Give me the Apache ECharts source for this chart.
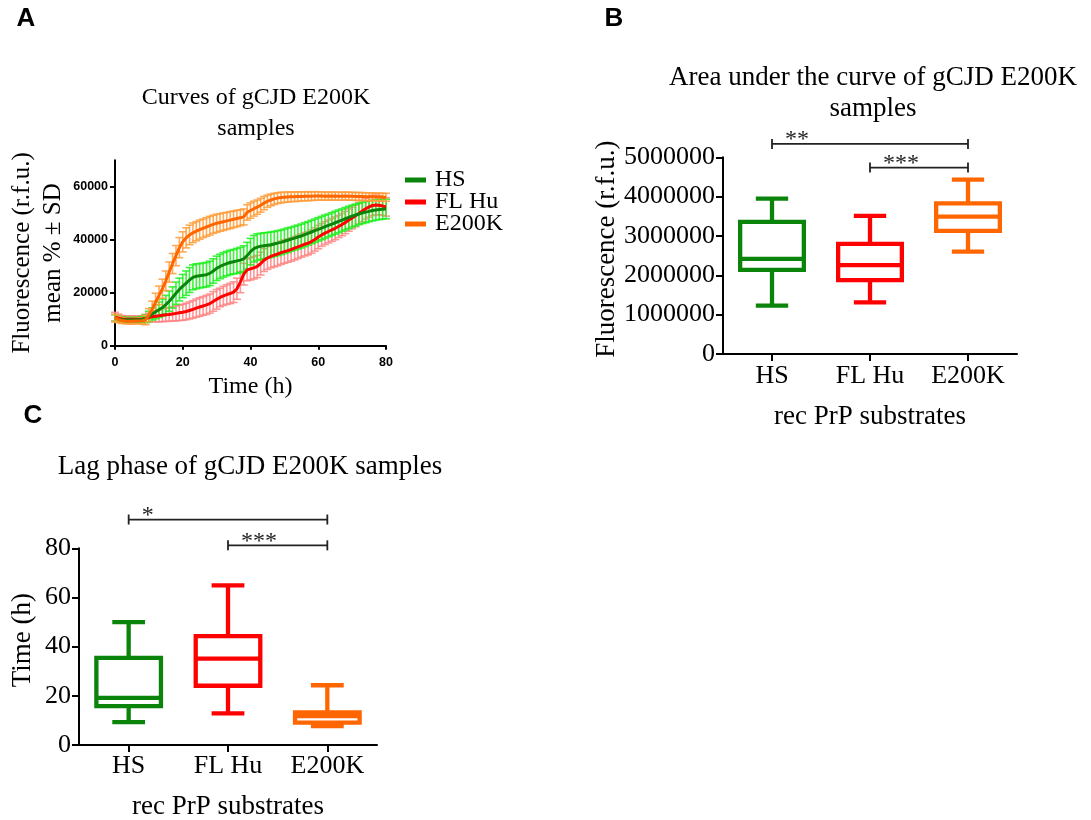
<!DOCTYPE html>
<html><head><meta charset="utf-8">
<script src="https://cdn.jsdelivr.net/npm/echarts@6/dist/echarts.min.js"></script>
<style>html,body{margin:0;padding:0;background:#fff}#c{width:1091px;height:820px}</style>
</head><body><div id="c"></div>
<script>
// ---------- Panel A: curves (time in h, mean and SD in r.f.u.) ----------
const timeH = [0,1,2,3,4,5,6,7,8,9,10,11,12,13,14,15,16,17,18,19,20,21,22,23,24,25,26,27,28,29,30,31,32,33,34,35,36,37,38,39,40,41,42,43,44,45,46,47,48,49,50,51,52,53,54,55,56,57,58,59,60,61,62,63,64,65,66,67,68,69,70,71,72,73,74,75,76,77,78,79,80];
const hsMean = [10500,10000,9800,9700,9700,9700,9700,9800,9900,10200,11000,12000,12800,13600,14400,15500,16800,18200,19800,21200,22500,23600,24800,25800,26200,26400,26600,26800,27300,28200,29200,29900,30500,31000,31400,31700,32000,32300,32800,34000,35500,36600,37200,37500,37700,37900,38100,38400,38700,39000,39400,39800,40200,40600,41000,41400,41900,42400,42900,43400,43900,44400,44900,45400,45900,46400,46900,47400,47900,48400,48900,49300,49700,50100,50400,50700,51000,51200,51400,51500,51600];
const hsSD = [1200,1100,1000,1000,900,900,900,1000,1100,1500,2000,2300,2600,2900,3200,3500,3800,4000,4200,4300,4400,4600,4700,4700,4700,4600,4600,4600,4600,4600,4600,4600,4600,4600,4600,4600,4700,4800,4900,5000,5000,5000,5000,4900,4900,4800,4800,4700,4700,4600,4600,4600,4500,4500,4500,4500,4500,4400,4400,4400,4400,4400,4400,4300,4300,4300,4300,4200,4200,4200,4100,4100,4000,4000,4000,3900,3900,3800,3800,3700,3700];
const flMean = [10800,10400,10100,10000,10000,10000,10000,10000,10100,10300,10600,10900,11100,11300,11500,11700,11800,12000,12200,12400,12600,12900,13300,13700,14200,14600,15000,15400,15900,16700,17500,18200,18800,19300,19700,20200,21500,24000,27000,28600,29000,29400,29900,31000,32300,33100,33700,34200,34600,35100,35500,35900,36300,36800,37300,37800,38300,38700,39300,40100,41000,41800,42500,43100,43700,44300,45000,45700,46500,47400,48200,49000,49900,50800,51700,52400,52900,53100,53000,52700,52400];
const flSD = [1800,1500,1300,1200,1200,1200,1200,1200,1200,1500,1700,1900,2100,2300,2400,2500,2600,2700,2800,2900,3000,3100,3200,3300,3400,3500,3500,3600,3600,3700,3700,3500,3600,3700,3800,3900,4000,4000,4100,4100,4200,4200,4200,4300,4300,4300,4300,4400,4400,4400,4400,4400,4400,4400,4400,4400,4400,4400,4400,4400,4400,4300,4300,4300,4300,4300,4200,4200,4200,4200,4100,4100,4000,4000,3900,3900,3800,3700,3600,3500,3500];
const ekMean = [10500,9900,9500,9300,9200,9200,9300,9300,9400,9700,11500,13800,16500,19000,21500,24500,27800,31000,34000,37000,39200,40700,41800,42600,43200,43800,44300,44800,45300,45800,46200,46500,46800,47100,47400,47700,48000,48300,48600,50300,51000,51700,52300,53000,53800,54500,55000,55400,55700,55900,56000,56100,56200,56200,56300,56300,56400,56400,56400,56500,56500,56500,56400,56500,56400,56500,56400,56400,56500,56400,56400,56300,56300,56300,56200,56200,56200,56100,56100,56000,56000];
const ekSD = [1300,1200,1100,1000,1000,1000,1000,1100,1200,1800,2500,3000,3300,3500,3600,3700,3800,3800,3800,3800,3800,3800,3700,3700,3600,3600,3500,3500,3500,3400,3400,3300,3300,3200,3200,3100,3100,3000,3000,2900,2900,2800,2700,2600,2500,2300,2200,2100,2000,2000,1900,1900,1800,1800,1800,1700,1700,1700,1600,1600,1600,1500,1500,1500,1500,1500,1500,1500,1500,1500,1500,1500,1500,1500,1500,1500,1500,1500,1500,1500,1500];
const curveXTicks = [0,20,40,60,80];
const curveYTicks = [0,20000,40000,60000];
const seriesNames = ['HS','FL Hu','E200K'];

// ---------- Panels B and C: box plots [min, q1, median, q3, max] ----------
const boxCategories = ['HS','FL Hu','E200K'];
const aucHS = [1230000, 2140000, 2420000, 3360000, 3950000];
const aucFL = [1310000, 1880000, 2260000, 2800000, 3510000];
const aucEK = [2600000, 3130000, 3490000, 3830000, 4430000];
const aucTicks = [0,1000000,2000000,3000000,4000000,5000000];
const lagHS = [9.3, 15.8, 19.2, 35.4, 50.0];
const lagFL = [12.9, 24.1, 35.1, 44.3, 64.9];
const lagEK = [7.7, 9.1, 11.8, 13.3, 24.3];
const lagTicks = [0,20,40,60,80];
// significance brackets: [from category, to category, height, label]
const aucSig = [[0, 2, 5340000, '**'], [1, 2, 4740000, '***']];
const lagSig = [[0, 2, 91.7, '*'], [1, 2, 81.2, '***']];

// ---------- styles ----------
const SERIF = 'Liberation Serif';
const SANS = 'Liberation Sans';
const GREEN = '#0A840A', RED = '#FF0000', ORANGE = '#FF6600';
const GREEN_ERR = '#1EF01E', RED_ERR = '#FF8585', ORANGE_ERR = '#FF9D3C';
const boxColors = [GREEN, RED, ORANGE];
const plain = v => String(v);

function errData(mean, sd){ return timeH.map((t,i)=>[t, mean[i]-sd[i], mean[i]+sd[i]]); }
function lineData(mean){ return timeH.map((t,i)=>[t, mean[i]]); }
function errRender(color){
  return function(params, api){
    const t = api.value(0);
    const p1 = api.coord([t, api.value(1)]), p2 = api.coord([t, api.value(2)]);
    const hw = 4, st = {stroke: color, lineWidth: 1.6, opacity: 0.85};
    return {type:'group', children:[
      {type:'line', shape:{x1:p1[0],y1:p1[1],x2:p2[0],y2:p2[1]}, style:st},
      {type:'line', shape:{x1:p1[0]-hw,y1:p1[1],x2:p1[0]+hw,y2:p1[1]}, style:st},
      {type:'line', shape:{x1:p2[0]-hw,y1:p2[1],x2:p2[0]+hw,y2:p2[1]}, style:st}
    ]};
  };
}
function boxRender(params, api){
  const i = api.value(0);
  const band = api.size([1,0])[0];
  const bw = band*0.65, cw = band*0.33;
  const c = api.coord([i, 0])[0];
  const y = k => api.coord([i, api.value(k)])[1];
  const mn=y(1), q1=y(2), md=y(3), q3=y(4), mx=y(5);
  const st = {stroke: boxColors[i], lineWidth: 4.3, fill: null};
  return {type:'group', children:[
    {type:'rect', shape:{x:c-bw/2, y:q3, width:bw, height:q1-q3}, style:st},
    {type:'line', shape:{x1:c-bw/2, y1:md, x2:c+bw/2, y2:md}, style:st},
    {type:'line', shape:{x1:c, y1:q3, x2:c, y2:mx}, style:st},
    {type:'line', shape:{x1:c, y1:q1, x2:c, y2:mn}, style:st},
    {type:'line', shape:{x1:c-cw/2, y1:mx, x2:c+cw/2, y2:mx}, style:st},
    {type:'line', shape:{x1:c-cw/2, y1:mn, x2:c+cw/2, y2:mn}, style:st}
  ]};
}
function sigRender(params, api){
  const a = api.coord([api.value(0), api.value(2)]);
  const b = api.coord([api.value(1), api.value(2)]);
  const st = {stroke:'#222', lineWidth:1.8};
  const src = params.seriesName === 'aucSig' ? aucSig : lagSig;
  const label = src[params.dataIndex][3];
  return {type:'group', children:[
    {type:'line', shape:{x1:a[0],y1:a[1],x2:b[0],y2:b[1]}, style:st},
    {type:'line', shape:{x1:a[0],y1:a[1]-5,x2:a[0],y2:a[1]+5}, style:st},
    {type:'line', shape:{x1:b[0],y1:b[1]-5,x2:b[0],y2:b[1]+5}, style:st},
    {type:'text', style:{text:label, x:a[0]+13, y:a[1]-4, font:'24px "Liberation Serif"', fill:'#222', align:'left', verticalAlign:'middle'}}
  ]};
}

const axisLineSt = {show:true, lineStyle:{color:'#000', width:2}};
const tickSt = (len)=>({show:true, inside:false, length:len, lineStyle:{color:'#000', width:2}});
const nameSt = {fontFamily:SERIF, fontSize:27, color:'#000'};

const option = {
  animation:false,
  backgroundColor:'#fff',
  grid:[
    {left:115, top:160.2, width:271, height:185.5, outerBoundsMode:'none'},
    {left:723, top:157.3, width:294, height:196.7, outerBoundsMode:'none'},
    {left:79, top:548.3, width:298, height:196.7, outerBoundsMode:'none'}
  ],
  xAxis:[
    {gridIndex:0, type:'value', min:0, max:80, interval:20,
      axisLine:axisLineSt, axisTick:Object.assign(tickSt(4), {customValues:curveXTicks}), splitLine:{show:false},
      axisLabel:{fontFamily:SANS, fontWeight:'bold', fontSize:12.5, color:'#000', margin:10, formatter:plain, customValues:curveXTicks},
      name:'Time (h)', nameLocation:'middle', nameGap:29, nameTextStyle:{fontFamily:SERIF, fontSize:24, color:'#000'}},
    {gridIndex:1, type:'category', data:boxCategories, boundaryGap:true,
      axisLine:axisLineSt, axisTick:Object.assign(tickSt(7), {alignWithLabel:true}), splitLine:{show:false},
      axisLabel:{fontFamily:SERIF, fontSize:26, color:'#000', margin:9},
      name:'rec PrP substrates', nameLocation:'middle', nameGap:49, nameTextStyle:nameSt},
    {gridIndex:2, type:'category', data:boxCategories, boundaryGap:true,
      axisLine:axisLineSt, axisTick:Object.assign(tickSt(7), {alignWithLabel:true}), splitLine:{show:false},
      axisLabel:{fontFamily:SERIF, fontSize:26, color:'#000', margin:8},
      name:'rec PrP substrates', nameLocation:'middle', nameGap:48, nameTextStyle:nameSt}
  ],
  yAxis:[
    {gridIndex:0, type:'value', min:0, max:70000, interval:10000,
      axisLine:axisLineSt, axisTick:Object.assign(tickSt(5), {customValues:curveYTicks}), splitLine:{show:false},
      axisLabel:{fontFamily:SANS, fontWeight:'bold', fontSize:12.5, color:'#000', margin:7, formatter:plain, customValues:curveYTicks},
      name:'Fluorescence (r.f.u.)\nmean % \u00B1 SD', nameLocation:'middle', nameRotate:90, nameGap:46,
      nameTextStyle:{fontFamily:SERIF, fontSize:25, color:'#000', lineHeight:31, align:'center'}},
    {gridIndex:1, type:'value', min:0, max:5000000, interval:1000000,
      axisLine:axisLineSt, axisTick:Object.assign(tickSt(7), {customValues:aucTicks}), splitLine:{show:false},
      axisLabel:{fontFamily:SERIF, fontSize:26, color:'#000', margin:8, formatter:plain, customValues:aucTicks},
      name:'Fluorescence (r.f.u.)', nameLocation:'middle', nameRotate:90, nameGap:102,
      nameTextStyle:Object.assign({padding:[0,0,0,13]}, nameSt)},
    {gridIndex:2, type:'value', min:0, max:80, interval:20,
      axisLine:axisLineSt, axisTick:Object.assign(tickSt(7), {customValues:lagTicks}), splitLine:{show:false},
      axisLabel:{fontFamily:SERIF, fontSize:26, color:'#000', margin:8, formatter:plain, customValues:lagTicks},
      name:'Time (h)', nameLocation:'middle', nameRotate:90, nameGap:43,
      nameTextStyle:Object.assign({padding:[0,0,0,13]}, nameSt)}
  ],
  legend:{
    orient:'vertical', left:405, top:168, padding:0, itemWidth:21, itemHeight:5, itemGap:-2, icon:'rect',
    selectedMode:false, data:seriesNames,
    textStyle:{fontFamily:SERIF, fontSize:24, color:'#000', lineHeight:21, padding:[0,0,0,4]}
  },
  series:[
    {type:'custom', name:'errFL', xAxisIndex:0, yAxisIndex:0, renderItem:errRender(RED_ERR), data:errData(flMean, flSD), z:1, silent:true},
    {type:'custom', name:'errHS', xAxisIndex:0, yAxisIndex:0, renderItem:errRender(GREEN_ERR), data:errData(hsMean, hsSD), z:1, silent:true},
    {type:'custom', name:'errEK', xAxisIndex:0, yAxisIndex:0, renderItem:errRender(ORANGE_ERR), data:errData(ekMean, ekSD), z:1, silent:true},
    {type:'line', name:seriesNames[1], xAxisIndex:0, yAxisIndex:0, data:lineData(flMean), showSymbol:false, color:RED, lineStyle:{width:3, color:RED}, itemStyle:{color:RED}, z:3},
    {type:'line', name:seriesNames[0], xAxisIndex:0, yAxisIndex:0, data:lineData(hsMean), showSymbol:false, color:GREEN, lineStyle:{width:3, color:GREEN}, itemStyle:{color:GREEN}, z:3},
    {type:'line', name:seriesNames[2], xAxisIndex:0, yAxisIndex:0, data:lineData(ekMean), showSymbol:false, color:ORANGE, lineStyle:{width:3, color:ORANGE}, itemStyle:{color:ORANGE}, z:3},
    {type:'custom', name:'aucBox', xAxisIndex:1, yAxisIndex:1, renderItem:boxRender,
      data:[[0].concat(aucHS), [1].concat(aucFL), [2].concat(aucEK)], encode:{x:0, y:[1,2,3,4,5]}},
    {type:'custom', name:'aucSig', xAxisIndex:1, yAxisIndex:1, renderItem:sigRender, clip:false,
      data:aucSig.map(d=>[d[0], d[1], d[2]]), encode:{x:[0,1], y:2}},
    {type:'custom', name:'lagBox', xAxisIndex:2, yAxisIndex:2, renderItem:boxRender,
      data:[[0].concat(lagHS), [1].concat(lagFL), [2].concat(lagEK)], encode:{x:0, y:[1,2,3,4,5]}},
    {type:'custom', name:'lagSig', xAxisIndex:2, yAxisIndex:2, renderItem:sigRender, clip:false,
      data:lagSig.map(d=>[d[0], d[1], d[2]]), encode:{x:[0,1], y:2}}
  ],
  graphic:[
    {type:'text', x:26, y:19, style:{text:'A', font:'bold 26px "Liberation Sans"', fill:'#000', align:'center', verticalAlign:'middle'}},
    {type:'text', x:614, y:19, style:{text:'B', font:'bold 26px "Liberation Sans"', fill:'#000', align:'center', verticalAlign:'middle'}},
    {type:'text', x:33, y:416, style:{text:'C', font:'bold 26px "Liberation Sans"', fill:'#000', align:'center', verticalAlign:'middle'}},
    {type:'text', x:256, y:113, style:{text:'Curves of gCJD E200K\nsamples', font:'24px "Liberation Serif"', lineHeight:31, fill:'#000', align:'center', verticalAlign:'middle'}},
    {type:'text', x:873, y:93, style:{text:'Area under the curve of gCJD E200K\nsamples', font:'27px "Liberation Serif"', lineHeight:31, fill:'#000', align:'center', verticalAlign:'middle'}},
    {type:'text', x:250, y:467, style:{text:'Lag phase of gCJD E200K samples', font:'27px "Liberation Serif"', fill:'#000', align:'center', verticalAlign:'middle'}}
  ]
};
const chart = echarts.init(document.getElementById('c'), null, {renderer:'canvas'});
chart.setOption(option);
</script>
</body></html>
